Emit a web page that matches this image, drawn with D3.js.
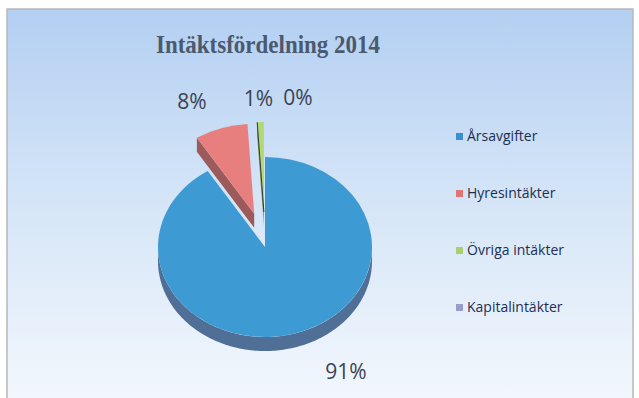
<!DOCTYPE html>
<html>
<head>
<meta charset="utf-8">
<script src="https://cdn.jsdelivr.net/npm/d3@7"></script>
<style>
  body { margin: 0; background: #fff; }
  svg { display: block; }
</style>
</head>
<body>
<div id="chart"></div>
<script>
// data
const categories = ['Årsavgifter', 'Hyresintäkter', 'Övriga intäkter', 'Kapitalintäkter'];
const values = [91, 8, 1, 0];
const pctLabels = ['91%', '8%', '1%', '0%'];
const title = 'Intäktsfördelning 2014';

const topColors = ['#3d9ad3', '#e77f7f', '#b3d873', '#9a9ad0'];
const sideColors = ['#4f6f96', '#9c5a5a', '#7f9a50', '#6a6a9a'];
const legendColors = ['#3a8fcc', '#e07575', '#a8d06e', '#9a9ccc'];

const width = 639, height = 398;
const cx = 265, cy = 247, rx = 107, ry = 90, depth = 14;
const explode = [0, 35, 35, 35];

const svg = d3.select('#chart').append('svg')
    .attr('width', width)
    .attr('height', height);

let defs = svg.append('defs');
let grad = defs.append('linearGradient').attr('id', 'bg')
    .attr('x1', 0).attr('y1', 0).attr('x2', 0).attr('y2', 1);
grad.append('stop').attr('offset', '0%').attr('stop-color', '#b3cff2');
grad.append('stop').attr('offset', '45%').attr('stop-color', '#d3e4f7');
grad.append('stop').attr('offset', '100%').attr('stop-color', '#f4f8fd');

svg.append('rect')
    .attr('x', 7).attr('y', 9)
    .attr('width', 626).attr('height', 400)
    .attr('fill', 'url(#bg)')
    .attr('stroke', '#b8b8b8')
    .attr('stroke-width', 1.5);

svg.append('text')
    .attr('x', 268).attr('y', 53)
    .attr('text-anchor', 'middle')
    .attr('font-family', 'Liberation Serif, serif')
    .attr('font-weight', 'bold')
    .attr('font-size', 25)
    .attr('textLength', 224)
    .attr('lengthAdjust', 'spacingAndGlyphs')
    .attr('fill', '#4b596e')
    .text(title);

const pie = d3.pie().sort(null).value(d => d)(values);

// point on the tilted ellipse for angle a (clockwise from 12 o'clock)
function pt(a, r, off) {
    return [off[0] + r * Math.sin(a), off[1] - r * Math.cos(a) * ry / rx];
}
function offsetOf(d, i) {
    let mid = (d.startAngle + d.endAngle) / 2;
    return [cx + explode[i] * Math.sin(mid), cy - explode[i] * Math.cos(mid)];
}

const arc = d3.arc().innerRadius(0).outerRadius(rx);
let pieG = svg.append('g');

// side walls
pie.forEach((d, i) => {
    if (d.value === 0) return;
    let off = offsetOf(d, i);
    // outer rim, only front half visible
    let a0 = Math.max(d.startAngle, Math.PI / 2);
    let a1 = Math.min(d.endAngle, Math.PI * 3 / 2);
    if (a1 > a0) {
        let pts = d3.range(a0, a1, 0.02).concat([a1]);
        let top = pts.map(a => pt(a, rx, off));
        let bottom = pts.slice().reverse().map(a => {
            let p = pt(a, rx, off);
            return [p[0], p[1] + depth];
        });
        pieG.append('path')
            .attr('d', d3.line()(top.concat(bottom)) + 'Z')
            .attr('fill', sideColors[i]);
    }
    // radial cut facing the viewer on exploded slices
    if (explode[i] > 0 && Math.sin(d.startAngle) < 0) {
        let p0 = off, p1 = pt(d.startAngle, rx, off);
        pieG.append('path')
            .attr('d', d3.line()([p0, p1, [p1[0], p1[1] + depth], [p0[0], p0[1] + depth]]) + 'Z')
            .attr('fill', sideColors[i]);
    }
});

// top faces
pie.forEach((d, i) => {
    if (d.value === 0) return;
    let off = offsetOf(d, i);
    pieG.append('path')
        .attr('transform', `translate(${off[0]},${off[1]}) scale(1,${ry / rx})`)
        .attr('d', arc(d))
        .attr('fill', topColors[i]);
});
// thin dark edge on the green sliver
pie.forEach((d, i) => {
    if (i !== 2) return;
    let off = offsetOf(d, i);
    let p1 = pt(d.startAngle, rx, off);
    pieG.append('line')
        .attr('x1', off[0]).attr('y1', off[1])
        .attr('x2', p1[0]).attr('y2', p1[1])
        .attr('stroke', '#2a3a2a').attr('stroke-width', 1);
});

// data labels (outside end, nudged as in the reference)
const labelRadius = [150, 175, 175, 175];
const labelNudge = [[39, 5], [-19, -4], [-1, 0], [33, 0]];
pie.forEach((d, i) => {
    let mid = (d.startAngle + d.endAngle) / 2;
    let p = pt(mid, labelRadius[i], [cx, cy]);
    svg.append('text')
        .attr('x', p[0] + labelNudge[i][0])
        .attr('y', p[1] + labelNudge[i][1])
        .attr('text-anchor', 'middle')
        .attr('dominant-baseline', 'middle')
        .attr('font-family', 'Open Sans, sans-serif')
        .attr('font-size', 21)
        .attr('fill', '#3c4250')
        .text(pctLabels[i]);
});

// legend
let legend = svg.append('g').attr('transform', 'translate(456, 137)');
let item = legend.selectAll('g').data(categories).enter().append('g')
    .attr('transform', (c, i) => `translate(0, ${i * 57})`);
item.append('rect')
    .attr('x', 0).attr('y', -4)
    .attr('width', 7).attr('height', 7)
    .attr('fill', (c, i) => legendColors[i]);
item.append('text')
    .attr('x', 11).attr('y', 0)
    .attr('dominant-baseline', 'middle')
    .attr('font-family', 'Open Sans, sans-serif')
    .attr('font-size', 14)
    .attr('fill', '#1c2f52')
    .text(c => c);
</script>
</body>
</html>
